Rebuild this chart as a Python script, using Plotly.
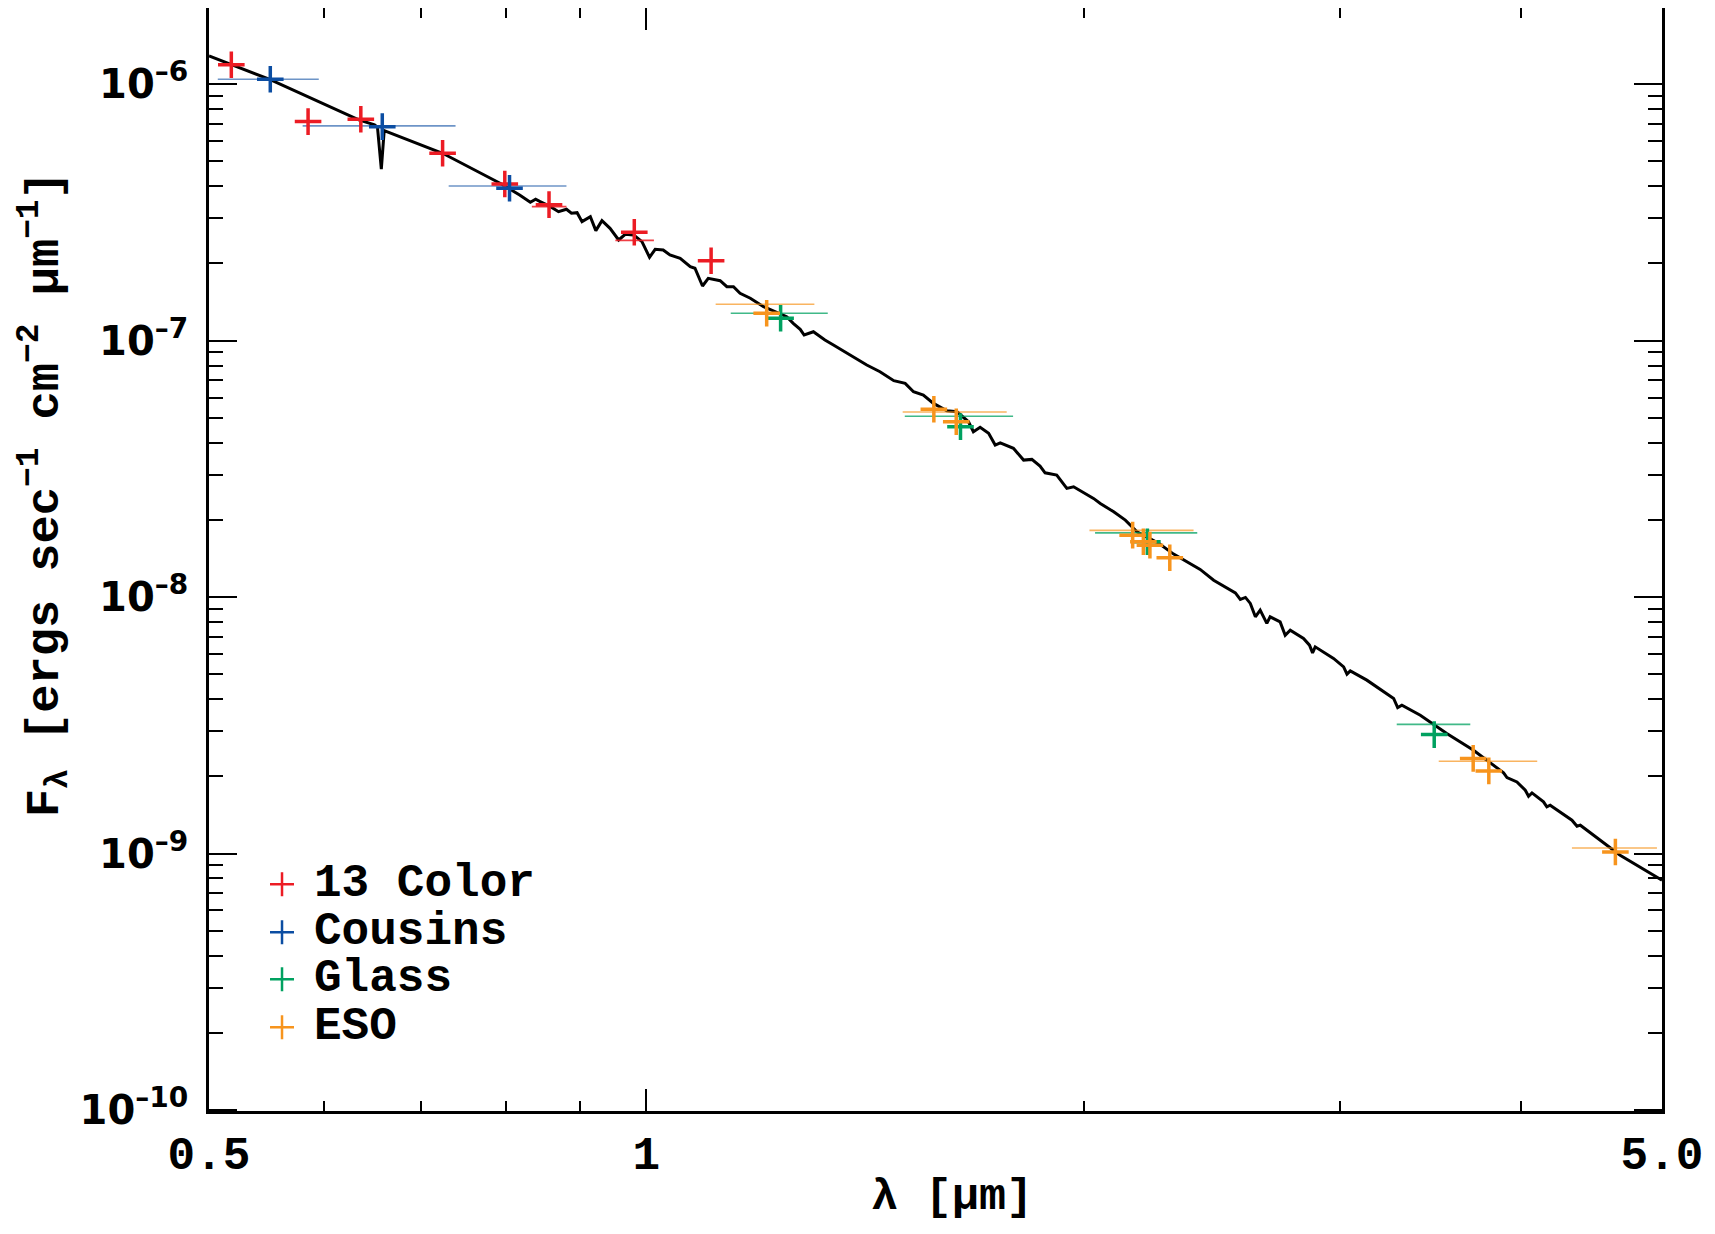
import math
import plotly.graph_objects as go

# ---------------- data ----------------
# model spectrum (wavelength in micron, flux in erg s^-1 cm^-2 micron^-1)
model_wl = [0.500, 0.550, 0.634, 0.650, 0.653, 0.657, 0.660, 0.724, 0.793, 0.818,
            0.832, 0.839, 0.845, 0.859, 0.870, 0.881, 0.888, 0.896, 0.903, 0.915,
            0.923, 0.932, 0.944, 0.957, 0.967, 0.980, 0.993, 1.005, 1.014, 1.027,
            1.038, 1.055, 1.072, 1.080, 1.093, 1.103, 1.124, 1.136, 1.148, 1.160,
            1.179, 1.204, 1.249, 1.262, 1.276, 1.284, 1.303, 1.327, 1.345, 1.389,
            1.418, 1.448, 1.480, 1.507, 1.527, 1.551, 1.576, 1.610, 1.636, 1.666,
            1.679, 1.697, 1.720, 1.738, 1.752, 1.789, 1.818, 1.842, 1.866, 1.881,
            1.916, 1.947, 1.968, 2.031, 2.053, 2.097, 2.136, 2.176, 2.252, 2.306,
            2.355, 2.405, 2.457, 2.510, 2.543, 2.563, 2.584, 2.604, 2.625, 2.645,
            2.673, 2.687, 2.730, 2.752, 2.774, 2.833, 2.860, 2.874, 2.886, 2.971,
            3.019, 3.035, 3.051, 3.132, 3.200, 3.268, 3.289, 3.311, 3.409, 3.555,
            3.709, 3.829, 3.890, 3.911, 3.973, 4.026, 4.047, 4.069, 4.144, 4.166,
            4.188, 4.335, 4.370, 4.393, 4.534, 4.679, 5.000]
model_flux = [1.289e-6, 1.046e-6, 7.256e-7, 6.937e-7, 6.795e-7, 4.66e-7, 6.592e-7, 5.378e-7, 4.109e-7, 3.699e-7,
              3.465e-7, 3.559e-7, 3.483e-7, 3.330e-7, 3.184e-7, 3.253e-7, 3.138e-7, 3.155e-7, 2.911e-7, 3.045e-7,
              2.685e-7, 2.937e-7, 2.742e-7, 2.470e-7, 2.599e-7, 2.583e-7, 2.432e-7, 2.113e-7, 2.271e-7, 2.257e-7,
              2.158e-7, 2.095e-7, 1.943e-7, 1.915e-7, 1.633e-7, 1.750e-7, 1.713e-7, 1.623e-7, 1.623e-7, 1.530e-7,
              1.463e-7, 1.356e-7, 1.240e-7, 1.168e-7, 1.107e-7, 1.052e-7, 1.083e-7, 1.006e-7, 9.616e-8, 8.656e-8,
              8.032e-8, 7.563e-8, 6.978e-8, 6.816e-8, 6.321e-8, 6.136e-8, 5.692e-8, 5.326e-8, 5.279e-8, 4.826e-8,
              4.412e-8, 4.590e-8, 4.350e-8, 3.915e-8, 3.997e-8, 3.802e-8, 3.422e-8, 3.443e-8, 3.242e-8, 3.053e-8,
              2.990e-8, 2.653e-8, 2.692e-8, 2.426e-8, 2.319e-8, 2.150e-8, 1.996e-8, 1.798e-8, 1.620e-8, 1.471e-8,
              1.372e-8, 1.282e-8, 1.164e-8, 1.081e-8, 1.039e-8, 9.793e-9, 9.970e-9, 9.447e-9, 8.375e-9, 8.893e-9,
              7.894e-9, 8.375e-9, 8.007e-9, 7.103e-9, 7.429e-9, 6.897e-9, 6.494e-9, 6.061e-9, 6.397e-9, 5.763e-9,
              5.343e-9, 5.005e-9, 5.156e-9, 4.744e-9, 4.362e-9, 4.023e-9, 3.710e-9, 3.788e-9, 3.462e-9, 2.937e-9,
              2.529e-9, 2.211e-9, 2.063e-9, 1.979e-9, 1.902e-9, 1.766e-9, 1.673e-9, 1.724e-9, 1.590e-9, 1.520e-9,
              1.543e-9, 1.349e-9, 1.278e-9, 1.290e-9, 1.127e-9, 9.849e-10, 7.867e-10]

# photometry: 13 Color
c13_wl = [0.518, 0.585, 0.636, 0.724, 0.799, 0.857, 0.981, 1.108]
c13_flux = [1.190e-6, 7.146e-7, 7.302e-7, 5.378e-7, 4.083e-7, 3.391e-7, 2.647e-7, 2.050e-7]
c13_band_lo = [0.834, 0.952]
c13_band_hi = [0.881, 1.012]
c13_band_flux = [3.33e-7, 2.46e-7]

# Cousins
cou_wl = [0.551, 0.658, 0.805]
cou_flux = [1.046e-6, 6.83e-7, 3.93e-7]
cou_band_lo = [0.507, 0.580, 0.731]
cou_band_hi = [0.595, 0.739, 0.881]
cou_band_flux = [1.046e-6, 6.88e-7, 4.01e-7]

# Glass
gla_wl = [1.237, 1.645, 2.212, 3.485]
gla_flux = [1.222e-7, 4.62e-8, 1.643e-8, 2.91e-9]
gla_band_lo = [1.143, 1.506, 2.036, 3.284]
gla_band_hi = [1.333, 1.788, 2.394, 3.690]
gla_band_flux = [1.278e-7, 5.07e-8, 1.78e-8, 3.19e-9]

# ESO
eso_wl = [1.210, 1.577, 1.634, 2.161, 2.198, 2.221, 2.292, 3.707, 3.800, 4.644]
eso_flux = [1.278e-7, 5.40e-8, 4.83e-8, 1.744e-8, 1.643e-8, 1.594e-8, 1.423e-8, 2.35e-9, 2.10e-9, 1.014e-9]
eso_band_lo = [1.116, 1.501, 2.018, 3.510, 4.335]
eso_band_hi = [1.305, 1.770, 2.380, 4.103, 4.960]
eso_band_flux = [1.386e-7, 5.27e-8, 1.82e-8, 2.29e-9, 1.051e-9]

series_names = ["13 Color", "Cousins", "Glass", "ESO"]
x_range = [0.5, 5.0]
x_tickvals = [0.5, 1, 5]
x_ticktext = ["0.5", "1", "5.0"]
x_minor = [0.6, 0.7, 0.8, 0.9, 2, 3, 4]
y_range = [9.91e-11, 1.982e-6]
y_tickvals = [1e-10, 1e-9, 1e-8, 1e-7, 1e-6]
y_ticktext = ["10<sup>\u201310</sup>", "10<sup>\u20139</sup>", "10<sup>\u20138</sup>",
              "10<sup>\u20137</sup>", "10<sup>\u20136</sup>"]
y_minor = [m * 10.0 ** e for e in range(-10, -5) for m in range(2, 10)]

# ---------------- styling ----------------
colors = ["#EC1C24", "#0B4DA2", "#00A160", "#F7941D"]
bar_colors = ["rgba(236,28,36,0.85)", "rgba(11,77,162,0.6)", "rgba(0,161,96,0.75)", "rgba(247,148,29,0.7)"]
MONO = "Liberation Mono"

fig = go.Figure()

fig.add_trace(go.Scatter(x=model_wl, y=model_flux, mode="lines",
                         line=dict(color="black", width=3), showlegend=False,
                         hoverinfo="skip"))

groups = [
    (c13_wl, c13_flux, c13_band_lo, c13_band_hi, c13_band_flux),
    (cou_wl, cou_flux, cou_band_lo, cou_band_hi, cou_band_flux),
    (gla_wl, gla_flux, gla_band_lo, gla_band_hi, gla_band_flux),
    (eso_wl, eso_flux, eso_band_lo, eso_band_hi, eso_band_flux),
]

for i, (wl, fl, lo, hi, bf) in enumerate(groups):
    xs, ys = [], []
    for a, b, f in zip(lo, hi, bf):
        xs += [a, b, None]
        ys += [f, f, None]
    fig.add_trace(go.Scatter(x=xs, y=ys, mode="lines",
                             line=dict(color=bar_colors[i], width=1.6),
                             showlegend=False, hoverinfo="skip"))

for i, (wl, fl, lo, hi, bf) in enumerate(groups):
    fig.add_trace(go.Scatter(x=wl, y=fl, mode="markers", name=series_names[i],
                             marker=dict(symbol="cross-thin", size=19,
                                         line=dict(color=colors[i], width=3.5)),
                             showlegend=False))

# figure sits 8 px inside the page (default body margin)
PAGE_OFF = 8
FIG_W, FIG_H = 1715 - PAGE_OFF, 1234 - PAGE_OFF
plot_x0, plot_w = 209, 1452.7          # page coords
plot_y0, plot_h = 8, 1102.7
M_L = plot_x0 - PAGE_OFF
M_T = plot_y0 - PAGE_OFF
M_R = FIG_W - M_L - plot_w
M_B = FIG_H - M_T - plot_h

def px(xp):
    return (xp - plot_x0) / plot_w
def py(yp):
    return 1 - (yp - plot_y0) / plot_h

# manual legend (IDL style, tight spacing)
legend_rows = [884, 932, 979, 1027]
shapes = []
annotations = []
for i, name in enumerate(series_names):
    yc = py(legend_rows[i])
    xc = px(282)
    shapes.append(dict(type="line", xref="paper", yref="paper", xsizemode="pixel", ysizemode="pixel",
                       xanchor=xc, yanchor=yc, x0=-12, x1=12, y0=0, y1=0,
                       line=dict(color=colors[i], width=2.5)))
    shapes.append(dict(type="line", xref="paper", yref="paper", xsizemode="pixel", ysizemode="pixel",
                       xanchor=xc, yanchor=yc, x0=0, x1=0, y0=-12, y1=12,
                       line=dict(color=colors[i], width=2.5)))
    annotations.append(dict(xref="paper", yref="paper", x=px(312), y=yc, xanchor="left", yanchor="middle",
                            text=name, showarrow=False,
                            font=dict(family=MONO, size=46, color="black", weight="bold")))

# axis titles as annotations (placed as in the reference)
annotations.append(dict(xref="paper", yref="paper", x=px(44), y=py(494), xanchor="center", yanchor="middle",
                        textangle=-90, showarrow=False,
                        text="F<sub>\u03bb</sub> [ergs sec<sup>\u22121</sup> cm<sup>\u22122</sup> \u03bcm<sup>\u22121</sup>]",
                        font=dict(family=MONO, size=47, color="black", weight="bold")))
annotations.append(dict(xref="paper", yref="paper", x=px(952), y=py(1197), xanchor="center", yanchor="middle",
                        showarrow=False, text="\u03bb [\u03bcm]",
                        font=dict(family=MONO, size=45, color="black", weight="bold")))

axis_common = dict(type="log", showline=True, linecolor="black", linewidth=2.5, mirror="ticks",
                   ticks="inside", tickcolor="black", tickwidth=2, showgrid=False, zeroline=False,
                   automargin=False)

fig.update_layout(
    width=FIG_W, height=FIG_H,
    margin=dict(l=M_L, r=M_R, t=M_T, b=M_B),
    paper_bgcolor="white", plot_bgcolor="white",
    showlegend=False,
    shapes=shapes, annotations=annotations,
    xaxis=dict(**axis_common, range=[math.log10(v) for v in x_range],
               tickmode="array", tickvals=x_tickvals, ticktext=x_ticktext, ticklen=22,
               minor=dict(tickmode="array", tickvals=x_minor, ticklen=10, ticks="inside",
                          tickcolor="black", tickwidth=2, showgrid=False),
               tickfont=dict(family=MONO, size=46, color="black", weight="bold"),
               ticklabelstandoff=0),
    yaxis=dict(**axis_common, range=[math.log10(v) for v in y_range],
               tickmode="array", tickvals=y_tickvals, ticktext=y_ticktext, ticklen=28,
               minor=dict(tickmode="array", tickvals=y_minor, ticklen=14, ticks="inside",
                          tickcolor="black", tickwidth=2, showgrid=False),
               tickfont=dict(family="DejaVu Sans", size=40, color="black", weight="bold"),
               ticklabelstandoff=10),
)

fig.write_html("out.html")
